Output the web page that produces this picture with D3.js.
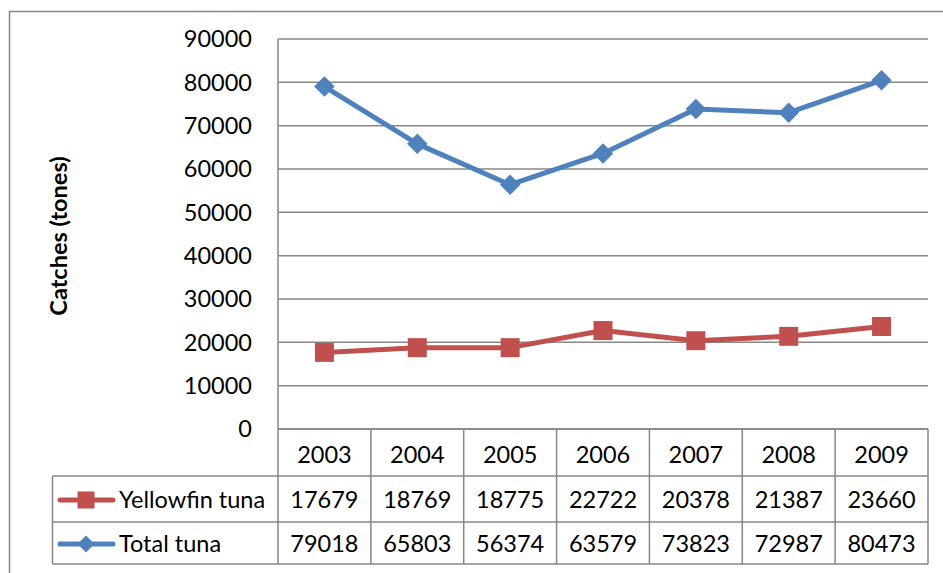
<!DOCTYPE html>
<html>
<head>
<meta charset="utf-8">
<script src="https://cdn.jsdelivr.net/npm/d3@7"></script>
<style>
  body { margin: 0; background: #fff; }
  svg { display: block; font-family: Lato, "Open Sans", sans-serif; }
</style>
</head>
<body>
<svg id="chart" width="943" height="573"></svg>
<script>
var years = ["2003", "2004", "2005", "2006", "2007", "2008", "2009"];
var yellowfin = [17679, 18769, 18775, 22722, 20378, 21387, 23660];
var totalTuna = [79018, 65803, 56374, 63579, 73823, 72987, 80473];
var yTicks = [0, 10000, 20000, 30000, 40000, 50000, 60000, 70000, 80000, 90000];

var series = [
  { name: "Yellowfin tuna", values: yellowfin, color: "#C0504D", marker: "square" },
  { name: "Total tuna", values: totalTuna, color: "#4F81BD", marker: "diamond" }
];

var grey = "#878787";
var fontSize = 23.5;
var svg = d3.select("#chart");

// square / diamond marker (diamond = square turned 45deg)
function marker(sel, kind, size) {
  return sel.append("rect")
    .attr("x", -size / 2).attr("y", -size / 2)
    .attr("width", size).attr("height", size)
    .attr("transform", kind === "diamond" ? "rotate(45)" : null);
}

// outer chart frame
svg.append("rect")
  .attr("x", 9.5).attr("y", 11.5)
  .attr("width", 960).attr("height", 600)
  .attr("fill", "none").attr("stroke", grey).attr("stroke-width", 1.5);

var plotL = 278, plotR = 928, plotT = 39, plotB = 429;

var x = d3.scaleBand().domain(years).range([plotL, plotR]);
var y = d3.scaleLinear().domain([0, 90000]).range([plotB, plotT]);

// gridlines
svg.append("g")
  .selectAll("line")
  .data(yTicks)
  .join("line")
  .attr("x1", plotL).attr("x2", plotR)
  .attr("y1", function(d) { return y(d); })
  .attr("y2", function(d) { return y(d); })
  .attr("stroke", grey).attr("stroke-width", 1.5);

// y axis line
svg.append("line")
  .attr("x1", plotL).attr("x2", plotL)
  .attr("y1", plotT).attr("y2", plotB)
  .attr("stroke", grey).attr("stroke-width", 1.5);

// y tick labels
svg.append("g")
  .selectAll("text")
  .data(yTicks)
  .join("text")
  .attr("x", 252)
  .attr("y", function(d) { return y(d); })
  .attr("dy", "0.36em")
  .attr("text-anchor", "end")
  .attr("font-size", fontSize)
  .attr("fill", "#000")
  .text(function(d) { return d; });

// axis title
svg.append("text")
  .attr("transform", "translate(67,236) rotate(-90)")
  .attr("text-anchor", "middle")
  .attr("font-size", 23.5)
  .attr("font-weight", "bold")
  .text("Catches (tones)");

// lines and markers
var line = d3.line()
  .x(function(d, i) { return x(years[i]) + x.bandwidth() / 2; })
  .y(function(d) { return y(d); });

series.forEach(function(s) {
  svg.append("path")
    .datum(s.values)
    .attr("d", line)
    .attr("fill", "none")
    .attr("stroke", s.color)
    .attr("stroke-width", 5)
    .attr("stroke-linejoin", "round");

  var pts = svg.append("g")
    .selectAll("g")
    .data(s.values)
    .join("g")
    .attr("transform", function(d, i) {
      return "translate(" + (x(years[i]) + x.bandwidth() / 2) + "," + y(d) + ")";
    })
    .attr("fill", s.color);
  marker(pts, s.marker, s.marker === "diamond" ? 14.5 : 19);
});

// data table
var rowTops = [429, 476, 522, 564];
var tableLeft = 52.5;
var tbl = svg.append("g").attr("stroke", grey).attr("stroke-width", 1.5).attr("fill", "none");

tbl.append("line").attr("x1", plotL).attr("x2", plotR).attr("y1", rowTops[0]).attr("y2", rowTops[0]);
[1, 2, 3].forEach(function(r) {
  tbl.append("line").attr("x1", tableLeft).attr("x2", plotR).attr("y1", rowTops[r]).attr("y2", rowTops[r]);
});
tbl.append("line").attr("x1", tableLeft).attr("x2", tableLeft).attr("y1", rowTops[1]).attr("y2", rowTops[3]);
tbl.selectAll("line.col")
  .data(d3.range(years.length + 1))
  .join("line")
  .attr("class", "col")
  .attr("x1", function(i) { return plotL + i * x.bandwidth(); })
  .attr("x2", function(i) { return plotL + i * x.bandwidth(); })
  .attr("y1", rowTops[0]).attr("y2", rowTops[3]);

// header years
svg.append("g")
  .selectAll("text")
  .data(years)
  .join("text")
  .attr("x", function(d) { return x(d) + x.bandwidth() / 2; })
  .attr("y", (rowTops[0] + rowTops[1]) / 2 + 2)
  .attr("dy", "0.36em")
  .attr("text-anchor", "middle")
  .attr("font-size", fontSize)
  .text(function(d) { return d; });

series.forEach(function(s, r) {
  var cy = (rowTops[r + 1] + rowTops[r + 2]) / 2 + 1;
  svg.append("g")
    .selectAll("text")
    .data(s.values)
    .join("text")
    .attr("x", function(d, i) { return x(years[i]) + x.bandwidth() / 2; })
    .attr("y", cy)
    .attr("dy", "0.36em")
    .attr("text-anchor", "middle")
    .attr("font-size", fontSize)
    .text(function(d) { return d; });

  // legend key
  svg.append("line")
    .attr("x1", 60).attr("x2", 113)
    .attr("y1", cy).attr("y2", cy)
    .attr("stroke", s.color).attr("stroke-width", 5)
    .attr("stroke-linecap", "round");
  var key = svg.append("g")
    .attr("transform", "translate(86," + cy + ")")
    .attr("fill", s.color);
  marker(key, s.marker, s.marker === "diamond" ? 12 : 17);
  svg.append("text")
    .attr("x", 119)
    .attr("y", cy)
    .attr("dy", "0.36em")
    .attr("font-size", fontSize)
    .text(s.name);
});
</script>
</body>
</html>
